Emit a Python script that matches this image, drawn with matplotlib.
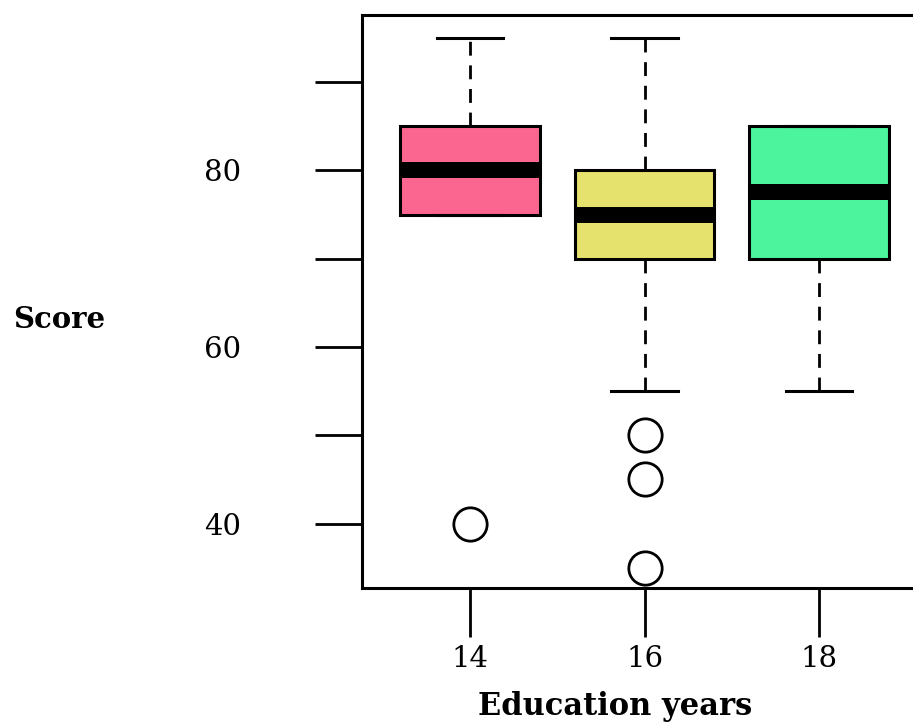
import matplotlib
matplotlib.use("Agg")
import matplotlib.pyplot as plt

plt.rcParams['font.family'] = ['DejaVu Serif']

groups = ["14", "16", "18"]
whisker_low = [75, 55, 55]
q1 = [75, 70, 70]
median = [80, 75, 77.5]
q3 = [85, 80, 85]
whisker_high = [95, 95, 85]
outliers = [[40], [50, 45, 35], []]
colors = ["#FA6690", "#E6E26E", "#4CF49E"]

ytick_vals = [40, 50, 60, 70, 80, 90]
ytick_labels = ["40", "", "60", "", "80", ""]

fig = plt.figure(figsize=(9.13, 7.22), dpi=100)
ax = fig.add_axes([361.8 / 913, 134 / 722, 565.4 / 913, 573 / 722])

stats = []
for i, g in enumerate(groups):
    stats.append(dict(label=g, whislo=whisker_low[i], q1=q1[i], med=median[i],
                      q3=q3[i], whishi=whisker_high[i], fliers=outliers[i]))

positions = list(range(1, len(groups) + 1))
bp = ax.bxp(stats, positions=positions, widths=0.8, capwidths=0.38,
            patch_artist=True, showfliers=True,
            boxprops=dict(linewidth=2.2, edgecolor="black"),
            whiskerprops=dict(linewidth=2.0, color="black", linestyle=(0, (5, 3.5))),
            capprops=dict(linewidth=2.2, color="black"),
            medianprops=dict(linewidth=11.5, color="black", solid_capstyle="butt"),
            flierprops=dict(marker="o", markersize=24, markerfacecolor="none",
                            markeredgecolor="black", markeredgewidth=2.0, linestyle="none"))
for patch, c in zip(bp["boxes"], colors):
    patch.set_facecolor(c)

ax.set_xlim(0.38, 3.62)
ax.set_ylim(32.7, 97.6)
ax.set_xticks(positions)
ax.set_xticklabels(groups)
ax.set_yticks(ytick_vals)
ax.set_yticklabels(ytick_labels)

ax.tick_params(axis="y", length=34, width=2.0, pad=53, labelsize=21)
ax.tick_params(axis="x", length=35, width=2.0, pad=6, labelsize=21)
for s in ax.spines.values():
    s.set_linewidth(2.2)

fig.text(13 / 913, 394 / 722, "Score", fontsize=21, fontweight="bold",
         ha="left", va="baseline")
fig.text(615 / 913, 7 / 722, "Education years", fontsize=22, fontweight="bold",
         ha="center", va="baseline")

fig.savefig("out.png", dpi=100)
